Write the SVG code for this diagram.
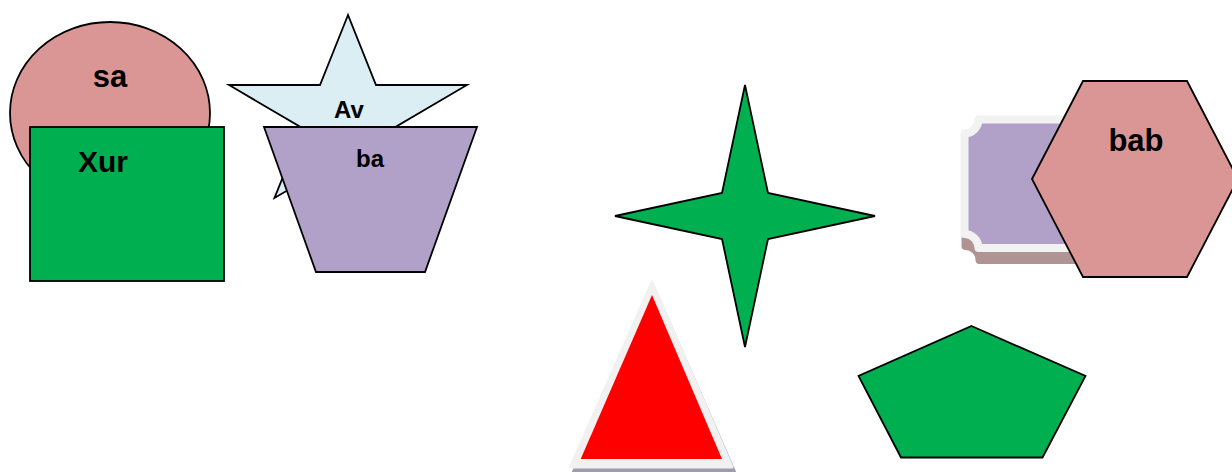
<svg xmlns="http://www.w3.org/2000/svg" width="1232" height="472" viewBox="0 0 1232 472">
<style>
.ol{stroke:#000;stroke-width:1.8;stroke-linejoin:miter}
.lbl{font-family:"Liberation Sans",Arial,sans-serif;font-weight:bold;fill:#000;text-anchor:middle}
</style>
<rect width="1232" height="472" fill="#fff"/>
<g id="node-sa">
<ellipse class="ol" cx="110" cy="113" rx="100" ry="91" fill="#da9694"/>
<text class="lbl" x="110" y="87" font-size="31">sa</text>
</g>
<g id="node-xur">
<rect class="ol" x="30" y="127" width="194" height="154" fill="#00b050"/>
<text class="lbl" x="103" y="172" font-size="30">Xur</text>
</g>
<g id="node-av">
<polygon class="ol" fill="#daeef3" points="348,15 320,85 229,85 302.6,128.2 274.5,198 348,155 421.5,198 393.4,128.2 467,85 376,85"/>
<text class="lbl" x="349" y="118" font-size="24">Av</text>
</g>
<g id="node-ba">
<polygon class="ol" fill="#b1a0c7" points="264,127 477,127 425,272 316,272"/>
<text class="lbl" x="370" y="166.5" font-size="24">ba</text>
</g>
<g id="node-plaque">
<path d="M979.5,131.5 H1121 V260 H979.5 A14,14 0 0 0 965.5,246 V145.5 A14,14 0 0 0 979.5,131.5 Z" fill="#b09494" stroke="#b09494" stroke-width="8" stroke-linejoin="round"/>
<path d="M978.5,119.5 H1120 V248 H978.5 A14,14 0 0 0 964.5,234 V133.5 A14,14 0 0 0 978.5,119.5 Z" fill="#b1a0c7" stroke="#f2f2f2" stroke-width="8" stroke-linejoin="round"/>
</g>
<g id="node-bab">
<polygon class="ol" fill="#da9694" points="1032,179 1083,81 1187,81 1238,179 1187,277 1083,277"/>
<text class="lbl" x="1136" y="151" font-size="31">bab</text>
</g>
<g id="node-star4">
<polygon class="ol" fill="#00b050" points="745,85 768,193 875,216 768,239 745,347 722,239 615,216 722,193"/>
</g>
<g id="node-triangle">
<polygon points="654,288 573,473 735,473" fill="#9e9cab" stroke="#9e9cab" stroke-width="3" stroke-linejoin="round"/>
<polygon points="652,282 570.5,467 732,467" fill="#f1f1f1" stroke="#f1f1f1" stroke-width="3" stroke-linejoin="round"/>
<polygon points="652,295 580.7,459 722,459" fill="#ff0000"/>
</g>
<g id="node-pentagon">
<polygon class="ol" fill="#00b050" points="971.5,326 1085.5,376 1042.5,457.5 901,457.5 858.5,376"/>
</g>
<g id="connectors"/>
</svg>
